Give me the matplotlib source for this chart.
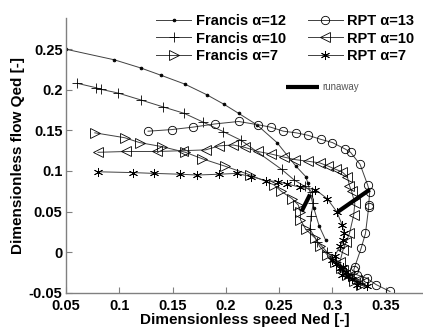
import matplotlib
matplotlib.use("Agg")
import matplotlib.pyplot as plt
from matplotlib.lines import Line2D

plt.rcParams['font.family'] = ['Liberation Sans', 'DejaVu Sans']

# ---------------- data ----------------
fr12_x = [0.050, 0.0953, 0.120, 0.139, 0.1616, 0.182, 0.1985, 0.212, 0.229, 0.248, 0.2657,
          0.275, 0.277, 0.2826, 0.2876, 0.2936]
fr12_y = [0.250, 0.237, 0.227, 0.218, 0.207, 0.194, 0.182, 0.171, 0.157, 0.135, 0.106,
          0.093, 0.085, 0.054, 0.032, 0.015]

fr10_x = [0.0606, 0.0779, 0.0825, 0.099, 0.120, 0.141, 0.161, 0.179, 0.1976, 0.214, 0.2523,
          0.264, 0.274, 0.281, 0.282, 0.280, 0.279, 0.286, 0.295, 0.303, 0.310, 0.318, 0.326]
fr10_y = [0.208, 0.2027, 0.2007, 0.196, 0.1876, 0.179, 0.171, 0.160, 0.1485, 0.138, 0.102,
          0.089, 0.081, 0.074, 0.060, 0.045, 0.028, 0.013, 0.000, -0.012, -0.022, -0.032, -0.038]

fr7_x = [0.077, 0.105, 0.119, 0.140, 0.162, 0.178, 0.199, 0.223, 0.245, 0.252, 0.262, 0.268,
         0.270, 0.270, 0.275, 0.284, 0.288, 0.295, 0.302, 0.308, 0.314, 0.320, 0.327]
fr7_y = [0.147, 0.141, 0.135, 0.130, 0.123, 0.115, 0.106, 0.095, 0.083, 0.075, 0.066, 0.058,
         0.050, 0.040, 0.028, 0.017, 0.007, -0.003, -0.012, -0.020, -0.028, -0.035, -0.040]

rpt13_x = [0.127, 0.149, 0.169, 0.190, 0.212, 0.230, 0.242, 0.254, 0.266, 0.277, 0.289, 0.300,
           0.312, 0.317, 0.326, 0.333, 0.335, 0.334, 0.334, 0.331, 0.327, 0.321, 0.320, 0.323,
           0.332, 0.341, 0.354]
rpt13_y = [0.149, 0.151, 0.154, 0.158, 0.161, 0.157, 0.154, 0.149, 0.147, 0.144, 0.139, 0.135,
           0.127, 0.123, 0.108, 0.083, 0.074, 0.058, 0.055, 0.023, 0.005, -0.018, -0.022, -0.028,
           -0.032, -0.040, -0.0485]

rpt10_x = [0.080, 0.106, 0.135, 0.160, 0.181, 0.194, 0.207, 0.218, 0.230, 0.242, 0.255, 0.265,
           0.277, 0.288, 0.296, 0.303, 0.309, 0.314, 0.316, 0.318, 0.321, 0.320, 0.316, 0.313,
           0.310, 0.307, 0.310, 0.316, 0.323, 0.329]
rpt10_y = [0.123, 0.124, 0.124, 0.125, 0.126, 0.131, 0.132, 0.129, 0.124, 0.121, 0.117, 0.114,
           0.112, 0.110, 0.106, 0.102, 0.099, 0.093, 0.082, 0.075, 0.060, 0.046, 0.023, 0.013,
           0.003, -0.012, -0.022, -0.030, -0.034, -0.037]

rpt7_x = [0.080, 0.113, 0.133, 0.157, 0.173, 0.194, 0.210, 0.224, 0.238, 0.249, 0.257, 0.270,
          0.284, 0.295, 0.304, 0.309, 0.311, 0.310, 0.307, 0.302, 0.300, 0.303, 0.307, 0.310,
          0.313, 0.309, 0.315, 0.318, 0.323, 0.332]
rpt7_y = [0.099, 0.098, 0.097, 0.096, 0.095, 0.096, 0.097, 0.093, 0.088, 0.087, 0.084, 0.080,
          0.077, 0.066, 0.050, 0.034, 0.024, 0.015, 0.007, -0.005, -0.010, -0.015, -0.020, -0.018,
          -0.024, -0.028, -0.030, -0.033, -0.040, -0.042]

run_fr_x = [0.271, 0.279]
run_fr_y = [0.050, 0.071]
run_rpt_x = [0.3054, 0.335]
run_rpt_y = [0.050, 0.077]

labels = ['Francis \u03b1=12', 'Francis \u03b1=10', 'Francis \u03b1=7',
          'RPT \u03b1=13', 'RPT \u03b1=10', 'RPT \u03b1=7']

xticks = [0.05, 0.1, 0.15, 0.2, 0.25, 0.3, 0.35]
xticklabels = ['0.05', '0.1', '0.15', '0.2', '0.25', '0.3', '0.35']
yticks = [-0.05, 0, 0.05, 0.1, 0.15, 0.2, 0.25]
yticklabels = ['-0.05', '0', '0.05', '0.1', '0.15', '0.2', '0.25']

# ---------------- figure ----------------
fig = plt.figure(figsize=(4.23, 3.34), dpi=100)
ax = fig.add_axes([66/423, (334-292.7)/334, (423-66)/423, (292.7-18)/334])

lc = '#404040'
lw = 0.7
common = dict(color=lc, lw=lw, markeredgecolor='black', markeredgewidth=0.6)
h1, = ax.plot(fr12_x, fr12_y, marker='.', ms=4, markerfacecolor='black', **common)
h2, = ax.plot(fr10_x, fr10_y, marker='+', ms=7, **common)
h3, = ax.plot(fr7_x, fr7_y, marker='>', ms=6.5, markerfacecolor='none', **common)
h4, = ax.plot(rpt13_x, rpt13_y, marker='o', ms=6, markerfacecolor='none', **common)
h5, = ax.plot(rpt10_x, rpt10_y, marker='<', ms=6.5, markerfacecolor='none', **common)
h6, = ax.plot(rpt7_x, rpt7_y, marker=(6, 2, 0), ms=6.5, **common)

ax.plot(run_fr_x, run_fr_y, color='black', lw=3, solid_capstyle='butt')
ax.plot(run_rpt_x, run_rpt_y, color='black', lw=3, solid_capstyle='butt')

ax.set_xlim(0.05, 0.385)
ax.set_ylim(-0.05, 0.2885)
ax.set_xticks(xticks)
ax.set_xticklabels(xticklabels)
ax.set_yticks(yticks)
ax.set_yticklabels(yticklabels)

for s in ['top', 'right']:
    ax.spines[s].set_visible(False)
for s in ['left', 'bottom']:
    ax.spines[s].set_color('#808080')
    ax.spines[s].set_linewidth(1.0)
ax.tick_params(direction='in', length=4, width=0.8, color='#808080',
               labelsize=10.5, pad=2.5)
ax.tick_params(axis='x', pad=4.5)
for t in ax.get_xticklabels() + ax.get_yticklabels():
    t.set_fontweight('bold')

ax.set_xlabel('Dimensionless speed Ned [-]', fontsize=11, fontweight='bold', labelpad=0)
ax.set_ylabel('Dimensionless flow Qed [-]', fontsize=11, fontweight='bold', labelpad=3)

leg = ax.legend([h1, h2, h3, h4, h5, h6], labels, ncol=2, frameon=False,
                loc='upper right', bbox_to_anchor=(1.0, 1.045),
                prop=dict(size=10.5, weight='bold'), handlelength=2.4,
                handletextpad=0.3, columnspacing=1.5, labelspacing=0.22,
                borderaxespad=0.2)
ax.add_artist(leg)

rh = Line2D([], [], color='black', lw=3, solid_capstyle='butt')
leg2 = ax.legend([rh], ['runaway'], frameon=False, loc='upper left',
                 bbox_to_anchor=((286-66)/357, 1 - (87.3-18-5)/274.7),
                 prop=dict(size=7), handlelength=3.4, handletextpad=0.3,
                 borderaxespad=0, borderpad=0)
for t in leg2.get_texts():
    t.set_color('#555555')

fig.savefig('out.png', dpi=100)
